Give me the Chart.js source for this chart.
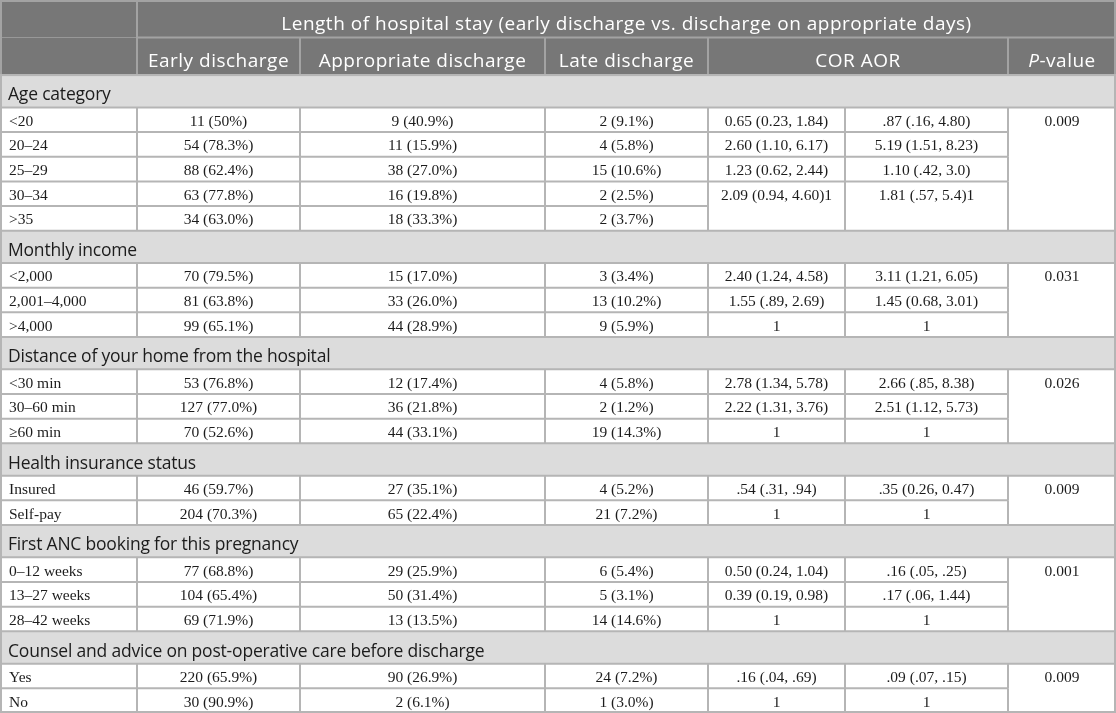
<!DOCTYPE html>
<html>
<head>
<meta charset="utf-8">
<title>Length of hospital stay</title>
<script src="https://cdn.jsdelivr.net/npm/chart.js@4.4.1/dist/chart.umd.min.js"></script>
<style>
  html, body { margin: 0; padding: 0; background: #fff; }
  canvas { display: block; }
</style>
</head>
<body>
<canvas id="table" width="1116" height="713"></canvas>
<script>
// table content
const title = 'Length of hospital stay (early discharge vs. discharge on appropriate days)';
const columnHeads = ['Early discharge', 'Appropriate discharge', 'Late discharge', 'COR AOR', 'P-value'];

const sections = [
  'Age category',
  'Monthly income',
  'Distance of your home from the hospital',
  'Health insurance status',
  'First ANC booking for this pregnancy',
  'Counsel and advice on post-operative care before discharge'
];
const sectionSizes = [5, 3, 3, 2, 3, 2];
const pValues = ['0.009', '0.031', '0.026', '0.009', '0.001', '0.009'];

const rowLabels = [
  '<20', '20–24', '25–29', '30–34', '>35',
  '<2,000', '2,001–4,000', '>4,000',
  '<30 min', '30–60 min', '≥60 min',
  'Insured', 'Self-pay',
  '0–12 weeks', '13–27 weeks', '28–42 weeks',
  'Yes', 'No'
];
const earlyDischarge = [
  '11 (50%)', '54 (78.3%)', '88 (62.4%)', '63 (77.8%)', '34 (63.0%)',
  '70 (79.5%)', '81 (63.8%)', '99 (65.1%)',
  '53 (76.8%)', '127 (77.0%)', '70 (52.6%)',
  '46 (59.7%)', '204 (70.3%)',
  '77 (68.8%)', '104 (65.4%)', '69 (71.9%)',
  '220 (65.9%)', '30 (90.9%)'
];
const appropriateDischarge = [
  '9 (40.9%)', '11 (15.9%)', '38 (27.0%)', '16 (19.8%)', '18 (33.3%)',
  '15 (17.0%)', '33 (26.0%)', '44 (28.9%)',
  '12 (17.4%)', '36 (21.8%)', '44 (33.1%)',
  '27 (35.1%)', '65 (22.4%)',
  '29 (25.9%)', '50 (31.4%)', '13 (13.5%)',
  '90 (26.9%)', '2 (6.1%)'
];
const lateDischarge = [
  '2 (9.1%)', '4 (5.8%)', '15 (10.6%)', '2 (2.5%)', '2 (3.7%)',
  '3 (3.4%)', '13 (10.2%)', '9 (5.9%)',
  '4 (5.8%)', '2 (1.2%)', '19 (14.3%)',
  '4 (5.2%)', '21 (7.2%)',
  '6 (5.4%)', '5 (3.1%)', '14 (14.6%)',
  '24 (7.2%)', '1 (3.0%)'
];
// null = merged with the cell above
const cor = [
  '0.65 (0.23, 1.84)', '2.60 (1.10, 6.17)', '1.23 (0.62, 2.44)', '2.09 (0.94, 4.60)1', null,
  '2.40 (1.24, 4.58)', '1.55 (.89, 2.69)', '1',
  '2.78 (1.34, 5.78)', '2.22 (1.31, 3.76)', '1',
  '.54 (.31, .94)', '1',
  '0.50 (0.24, 1.04)', '0.39 (0.19, 0.98)', '1',
  '.16 (.04, .69)', '1'
];
const aor = [
  '.87 (.16, 4.80)', '5.19 (1.51, 8.23)', '1.10 (.42, 3.0)', '1.81 (.57, 5.4)1', null,
  '3.11 (1.21, 6.05)', '1.45 (0.68, 3.01)', '1',
  '2.66 (.85, 8.38)', '2.51 (1.12, 5.73)', '1',
  '.35 (0.26, 0.47)', '1',
  '.16 (.05, .25)', '.17 (.06, 1.44)', '1',
  '.09 (.07, .15)', '1'
];

// layout: column edges on the x scale, row heights on the y scale
const colEdges = [0, 137, 300, 545, 708, 845, 1008, 1116];
const headSpans = [[1, 2], [2, 3], [3, 4], [4, 6], [6, 7]];
const HEAD_H = 37.5;
const SECTION_H = 32.3;
const DATA_H = 24.65;

const HEAD_FILL = '#777777';
const HEAD_LINE = '#a3a3a3';
const SECTION_FILL = '#dcdcdc';
const GRID = '#b5b5b5';
const INK = '#1c1c1c';
const SANS = '"Open Sans", "Noto Sans", sans-serif';
const SERIF = '"Liberation Serif", "DejaVu Serif", serif';
const HEAD_FONT = '19px ' + SANS;
const SECTION_FONT = '17.5px ' + SANS;
const CELL_FONT = '15.5px ' + SERIF;

// build the row list with their vertical extents
function buildRows() {
  const rows = [];
  let y = 0;
  rows.push({type: 'head1', y0: y, y1: y + HEAD_H}); y += HEAD_H;
  rows.push({type: 'head2', y0: y, y1: y + HEAD_H}); y += HEAD_H;
  let i = 0;
  sections.forEach((name, s) => {
    rows.push({type: 'section', label: name, y0: y, y1: y + SECTION_H});
    y += SECTION_H;
    for (let k = 0; k < sectionSizes[s]; k++) {
      rows.push({type: 'data', index: i, section: s, first: k === 0, y0: y, y1: y + DATA_H});
      y += DATA_H;
      i++;
    }
  });
  return {rows: rows, total: y};
}

const layout = buildRows();

function line(ctx, x0, y0, x1, y1) {
  ctx.beginPath();
  ctx.moveTo(x0, y0);
  ctx.lineTo(x1, y1);
  ctx.stroke();
}

function spacing(ctx, px) {
  if ('letterSpacing' in ctx) {
    ctx.letterSpacing = px + 'px';
  }
}

const tablePlugin = {
  id: 'tablePlugin',
  afterDraw(chart) {
    const ctx = chart.ctx;
    const xs = chart.scales.x;
    const ys = chart.scales.y;
    const px = (v) => xs.getPixelForValue(v);
    const py = (v) => ys.getPixelForValue(v);
    const left = px(colEdges[0]);
    const right = px(colEdges[colEdges.length - 1]);
    const colX = (c) => px(colEdges[c]);
    const colMid = (a, b) => (colX(a) + colX(b)) / 2;

    ctx.save();

    // backgrounds
    layout.rows.forEach((r) => {
      if (r.type === 'head1' || r.type === 'head2') {
        ctx.fillStyle = HEAD_FILL;
      } else if (r.type === 'section') {
        ctx.fillStyle = SECTION_FILL;
      } else {
        ctx.fillStyle = '#ffffff';
      }
      ctx.fillRect(left, py(r.y0), right - left, py(r.y1) - py(r.y0));
    });

    // header lines
    const h1 = layout.rows[0];
    const h2 = layout.rows[1];
    ctx.strokeStyle = HEAD_LINE;
    ctx.lineWidth = 2;
    ctx.strokeRect(left + 1, py(h1.y0) + 1, right - left - 2, py(h2.y1) - py(h1.y0) - 1);
    line(ctx, colX(1), py(h1.y0), colX(1), py(h2.y1));
    line(ctx, colX(1), py(h2.y0), right, py(h2.y0));
    headSpans.forEach((span) => {
      if (span[1] < colEdges.length - 1) {
        line(ctx, colX(span[1]), py(h2.y0), colX(span[1]), py(h2.y1));
      }
    });

    // body grid
    ctx.strokeStyle = GRID;
    ctx.lineWidth = 2;
    layout.rows.forEach((r) => {
      if (r.type === 'section') {
        line(ctx, left, py(r.y0), right, py(r.y0));
      } else if (r.type === 'data') {
        const top = py(r.y0);
        const bottom = py(r.y1);
        if (r.first) {
          line(ctx, left, top, right, top);
        } else if (cor[r.index] === null) {
          line(ctx, left, top, colX(4), top);
        } else {
          line(ctx, left, top, colX(6), top);
        }
        for (let c = 1; c < colEdges.length - 1; c++) {
          line(ctx, colX(c), top, colX(c), bottom);
        }
      }
    });
    const bodyTop = py(h2.y1);
    const bodyBottom = py(layout.total);
    line(ctx, left, bodyBottom - 1, right, bodyBottom - 1);
    line(ctx, left + 1, bodyTop, left + 1, bodyBottom);
    line(ctx, right - 1, bodyTop, right - 1, bodyBottom);

    // header text (the header is set with a little tracking)
    ctx.fillStyle = '#ffffff';
    ctx.textBaseline = 'alphabetic';
    ctx.textAlign = 'center';
    ctx.font = HEAD_FONT;
    spacing(ctx, 0.5);
    ctx.fillText(title, colMid(1, 7), py(h1.y1) - 7.5);
    const headY = py(h2.y1) - 8.3;
    columnHeads.forEach((label, k) => {
      const cx = colMid(headSpans[k][0], headSpans[k][1]);
      if (label === 'P-value') {
        ctx.font = 'italic ' + HEAD_FONT;
        const wP = ctx.measureText('P').width;
        ctx.font = HEAD_FONT;
        const wRest = ctx.measureText('-value').width;
        const x0 = cx - (wP + wRest) / 2;
        ctx.textAlign = 'left';
        ctx.font = 'italic ' + HEAD_FONT;
        ctx.fillText('P', x0, headY);
        ctx.font = HEAD_FONT;
        ctx.fillText('-value', x0 + wP, headY);
        ctx.textAlign = 'center';
      } else {
        ctx.fillText(label, cx, headY);
      }
    });

    // body text
    layout.rows.forEach((r) => {
      if (r.type === 'section') {
        spacing(ctx, -0.2);
        ctx.fillStyle = INK;
        ctx.font = SECTION_FONT;
        ctx.textAlign = 'left';
        ctx.fillText(r.label, left + 8, py(r.y1) - 7);
      } else if (r.type === 'data') {
        spacing(ctx, 0);
        const i = r.index;
        const base = py(r.y1) - 6.5;
        ctx.fillStyle = INK;
        ctx.font = CELL_FONT;
        ctx.textAlign = 'left';
        ctx.fillText(rowLabels[i], left + 9, base);
        ctx.textAlign = 'center';
        const cells = [earlyDischarge[i], appropriateDischarge[i], lateDischarge[i], cor[i], aor[i]];
        cells.forEach((text, c) => {
          if (text !== null) {
            ctx.fillText(text, colMid(c + 1, c + 2), base);
          }
        });
        if (r.first) {
          ctx.fillText(pValues[r.section], colMid(6, 7), base);
        }
      }
    });

    spacing(ctx, 0);
    ctx.restore();
  }
};

new Chart(document.getElementById('table'), {
  type: 'scatter',
  data: {datasets: []},
  options: {
    responsive: false,
    animation: false,
    devicePixelRatio: 1,
    events: [],
    layout: {padding: 0},
    plugins: {legend: {display: false}, tooltip: {enabled: false}},
    scales: {
      x: {type: 'linear', display: false, min: colEdges[0], max: colEdges[colEdges.length - 1]},
      y: {type: 'linear', display: false, reverse: true, min: 0, max: layout.total}
    }
  },
  plugins: [tablePlugin]
});
</script>
</body>
</html>
